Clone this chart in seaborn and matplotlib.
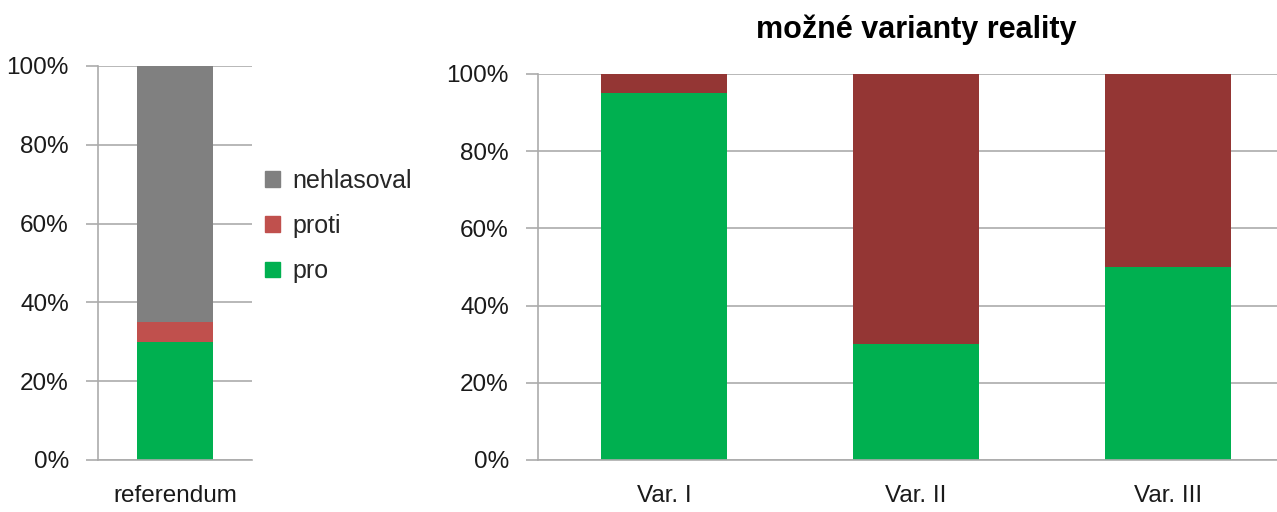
import numpy as np
import pandas as pd
import matplotlib.pyplot as plt
from matplotlib.patches import Patch
import seaborn as sns

# data
ref_labels = ["referendum"]
ref_pro = [30]
ref_proti = [5]
ref_nehlasoval = [65]

var_labels = ["Var. I", "Var. II", "Var. III"]
var_pro = [95, 30, 50]
var_proti = [5, 70, 50]

c_pro = "#00B050"
c_proti = "#C0504D"
c_proti_dark = "#943634"
c_neh = "#808080"
grid_c = "#ABABAB"

sns.set_theme(style="white")
plt.rcParams["font.family"] = ["Liberation Sans", "DejaVu Sans"]

fig = plt.figure(figsize=(12.77, 5.12), dpi=100)
W, H = 1277, 512
ax1 = fig.add_axes([98 / W, 1 - 460 / H, 154 / W, (460 - 66) / H])
# right axes runs past the figure edge, as in the original
ax2 = fig.add_axes([538 / W, 1 - 460 / H, (1294 - 538) / W, (460 - 74) / H])


def style(ax, n):
    ax.set_ylim(0, 100)
    ax.set_xlim(-0.5, n - 0.5)
    ax.set_yticks([0, 20, 40, 60, 80, 100])
    ax.set_yticklabels([f"{v}%" for v in range(0, 101, 20)])
    ax.set_axisbelow(True)
    ax.yaxis.grid(True, color=grid_c, linewidth=1.2)
    ax.xaxis.grid(False)
    for s in ["top", "right"]:
        ax.spines[s].set_visible(False)
    for s in ["left", "bottom"]:
        ax.spines[s].set_color(grid_c)
        ax.spines[s].set_linewidth(1.2)
    ax.set_xticks(np.arange(n + 1) - 0.5, minor=True)
    ax.tick_params(axis="x", which="minor", length=10, width=1.2, color=grid_c, direction="out")
    ax.tick_params(axis="x", which="major", length=0, pad=18, labelsize=17.5, labelcolor="#1a1a1a")
    ax.tick_params(axis="y", which="major", left=True, length=9, width=1.2, color=grid_c,
                   direction="out", pad=12, labelsize=17.5, labelcolor="#1a1a1a")
    ax.set_xlabel("")
    ax.set_ylabel("")


bar_kw = dict(saturation=1, linewidth=0, edgecolor="none")

# left: stacked referendum (drawn as overlapping cumulative totals)
ref = pd.DataFrame({"cat": ref_labels, "pro": ref_pro, "proti": ref_proti, "neh": ref_nehlasoval})
ref["c2"] = ref["pro"] + ref["proti"]
ref["c3"] = ref["c2"] + ref["neh"]
sns.barplot(data=ref, x="cat", y="c3", color=c_neh, width=0.49, ax=ax1, **bar_kw)
sns.barplot(data=ref, x="cat", y="c2", color=c_proti, width=0.49, ax=ax1, **bar_kw)
sns.barplot(data=ref, x="cat", y="pro", color=c_pro, width=0.49, ax=ax1, **bar_kw)
style(ax1, 1)

# right: variants
var = pd.DataFrame({"cat": var_labels, "pro": var_pro, "proti": var_proti})
var["c2"] = var["pro"] + var["proti"]
sns.barplot(data=var, x="cat", y="c2", color=c_proti_dark, width=0.5, ax=ax2, **bar_kw)
sns.barplot(data=var, x="cat", y="pro", color=c_pro, width=0.5, ax=ax2, **bar_kw)
style(ax2, 3)

fig.text(916 / W, 1 - 30 / H, "možné varianty reality", ha="center", va="center",
         fontsize=22, fontweight="bold", color="black")

handles = [Patch(color=c_neh, label="nehlasoval"),
           Patch(color=c_proti, label="proti"),
           Patch(color=c_pro, label="pro")]
fig.legend(handles=handles, loc="center left", bbox_to_anchor=(265 / W, 1 - 226 / H),
           frameon=False, fontsize=18, handlelength=0.6, handleheight=0.6,
           handletextpad=0.5, labelspacing=0.85, borderaxespad=0, borderpad=0)

fig.savefig("out.png", dpi=100)
